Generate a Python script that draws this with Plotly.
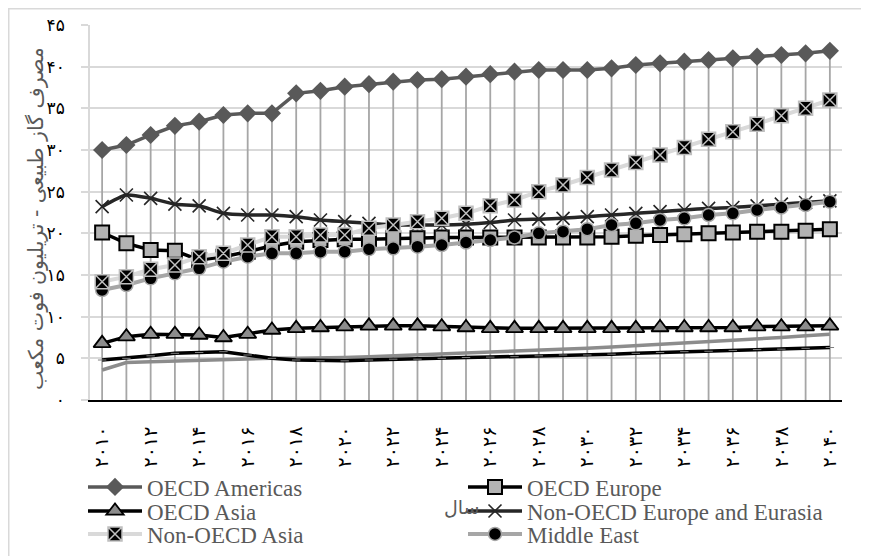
import plotly.graph_objects as go

years = list(range(2010, 2041))

oecd_americas = [30.0, 30.6, 31.8, 32.9, 33.4, 34.2, 34.4, 34.4, 36.8, 37.1,
                 37.6, 37.9, 38.2, 38.4, 38.5, 38.8, 39.1, 39.4, 39.6, 39.6,
                 39.6, 39.8, 40.2, 40.4, 40.6, 40.8, 41.0, 41.2, 41.4, 41.6, 41.9]
oecd_europe = [20.1, 18.8, 18.0, 17.9, 16.8, 17.2, 17.8, 18.5, 19.0, 19.2,
               19.3, 19.3, 19.4, 19.4, 19.5, 19.5, 19.5, 19.5, 19.5, 19.5,
               19.5, 19.6, 19.7, 19.8, 19.9, 20.0, 20.1, 20.2, 20.2, 20.3, 20.5]
oecd_asia = [6.8, 7.6, 7.9, 7.9, 7.8, 7.5, 7.9, 8.4, 8.6, 8.7,
             8.8, 8.9, 8.9, 8.9, 8.8, 8.7, 8.6, 8.6, 8.6, 8.6,
             8.6, 8.6, 8.6, 8.7, 8.7, 8.7, 8.7, 8.8, 8.8, 8.8, 8.9]
non_oecd_europe = [23.2, 24.6, 24.2, 23.5, 23.3, 22.4, 22.2, 22.2, 22.0, 21.6,
                   21.4, 21.2, 21.0, 21.0, 21.0, 21.1, 21.3, 21.6, 21.7, 21.8,
                   22.0, 22.2, 22.4, 22.6, 22.8, 23.0, 23.1, 23.3, 23.5, 23.7, 23.9]
non_oecd_asia = [14.2, 14.8, 15.7, 16.2, 17.2, 17.6, 18.6, 19.6, 19.6, 19.8,
                 19.8, 20.6, 21.0, 21.4, 21.8, 22.4, 23.3, 24.0, 25.0, 25.8,
                 26.7, 27.6, 28.5, 29.4, 30.3, 31.3, 32.2, 33.1, 34.1, 35.0, 36.0]
middle_east = [13.2, 13.8, 14.6, 15.2, 15.8, 16.6, 17.2, 17.6, 17.6, 17.8,
               17.8, 18.1, 18.2, 18.4, 18.6, 18.9, 19.2, 19.5, 20.0, 20.2,
               20.5, 21.0, 21.2, 21.6, 21.8, 22.2, 22.4, 22.8, 23.1, 23.4, 23.8]
africa = [4.8, 5.0, 5.3, 5.6, 5.7, 5.8, 5.4, 5.0, 4.8, 4.7,
          4.7, 4.8, 4.9, 4.9, 5.0, 5.1, 5.15, 5.2, 5.3, 5.4,
          5.4, 5.5, 5.6, 5.7, 5.8, 5.85, 5.95, 6.05, 6.1, 6.2, 6.3]
central_south_america = [3.6, 4.5, 4.6, 4.7, 4.7, 4.8, 4.9, 5.0, 5.0, 5.0,
                         5.1, 5.2, 5.3, 5.4, 5.5, 5.6, 5.7, 5.85, 5.95, 6.1,
                         6.2, 6.35, 6.5, 6.7, 6.85, 7.0, 7.2, 7.35, 7.5, 7.7, 7.9]

y_ticks = list(range(0, 50, 5))
x_ticks = list(range(2010, 2041, 2))

PERSIAN = str.maketrans("0123456789", "۰۱۲۳۴۵۶۷۸۹")


def fa(n):
    return str(n).translate(PERSIAN)


y_title = "مصرف گاز طبیعی - تریلیون فوت مکعب"
x_title = "سال"

fig = go.Figure()

fig.add_trace(go.Scatter(
    x=years, y=oecd_americas, name="OECD Americas", mode="lines+markers",
    line=dict(color="#595959", width=3.5),
    marker=dict(symbol="diamond", size=14, color="#595959"),
    error_y=dict(type="data", symmetric=False, array=[0] * len(years),
                 arrayminus=oecd_americas, color="#A6A6A6", thickness=1.8, width=0),
    legend="legend", legendrank=1,
))
fig.add_trace(go.Scatter(
    x=years, y=central_south_america, name="Central and South America", mode="lines",
    line=dict(color="#8C8C8C", width=3.5), showlegend=False,
))
fig.add_trace(go.Scatter(
    x=years, y=africa, name="Africa", mode="lines+markers",
    line=dict(color="#000000", width=3.5),
    marker=dict(symbol="line-ew", size=6, line=dict(color="#7F7F7F", width=1)),
    showlegend=False,
))
fig.add_trace(go.Scatter(
    x=years, y=oecd_asia, name="OECD Asia", mode="lines+markers",
    line=dict(color="#000000", width=3.5),
    marker=dict(symbol="triangle-up", size=15, color="#8C8C8C",
                line=dict(color="#000000", width=1.8)),
    legend="legend2", legendrank=1,
))
fig.add_trace(go.Scatter(
    x=years, y=oecd_europe, name="OECD Europe", mode="lines+markers",
    line=dict(color="#000000", width=3.5),
    marker=dict(symbol="square", size=14, color="#B3B3B3",
                line=dict(color="#000000", width=2)),
    legend="legend", legendrank=2,
))
fig.add_trace(go.Scatter(
    x=years, y=non_oecd_europe, name="Non-OECD Europe and Eurasia", mode="lines+markers",
    line=dict(color="#262626", width=3.5, shape="spline", smoothing=0.6),
    marker=dict(symbol="x-thin", size=13, line=dict(color="#262626", width=1.6)),
    legend="legend2", legendrank=2,
))
fig.add_trace(go.Scatter(
    x=years, y=middle_east, name="Middle East", mode="lines+markers",
    line=dict(color="#A6A6A6", width=4),
    marker=dict(symbol="circle", size=13, color="#000000",
                line=dict(color="#A6A6A6", width=1.5)),
    legend="legend3", legendrank=2,
))
fig.add_trace(go.Scatter(
    x=years, y=non_oecd_asia, name="Non-OECD Asia", mode="lines+markers",
    line=dict(color="#D9D9D9", width=4),
    marker=dict(symbol="square-x", size=14, color="#000000",
                line=dict(color="#BFBFBF", width=1.5)),
    legend="legend3", legendrank=1,
))

# The page body adds an 8px offset; positions below are in figure pixels.
W, H = 869, 556
PL, PR, PT, PB = 82, 834, 17, 392
pw, ph = PR - PL, PB - PT


def px_x(v):
    return (v - PL) / pw


def px_y(v):
    return (PB - v) / ph


LEG_FONT = dict(family="Liberation Serif, serif", size=23, color="#595959")


def row_legend(ypix):
    return dict(
        orientation="h", x=px_x(75), y=px_y(ypix), xanchor="left", yanchor="middle",
        font=LEG_FONT, entrywidth=311, entrywidthmode="pixels", itemwidth=54,
        traceorder="normal", bgcolor="rgba(0,0,0,0)",
    )


fig.update_layout(
    width=W, height=H,
    margin=dict(l=PL, r=W - PR, t=PT, b=H - PB, autoexpand=False),
    paper_bgcolor="white", plot_bgcolor="white",
    font=dict(family="Liberation Serif, serif", color="#595959"),
    showlegend=True,
    legend=row_legend(479),
    legend2=row_legend(503),
    legend3=row_legend(526),
    xaxis=dict(
        range=[2009.5, 2040.5], tickmode="array", tickvals=x_ticks,
        ticktext=[fa(v) for v in x_ticks], tickangle=-90,
        tickfont=dict(family="DejaVu Sans", size=19, color="#000000"),
        showgrid=False, zeroline=False, showline=True, linecolor="#000000",
        linewidth=2, ticks="", ticklabelstandoff=17,
    ),
    yaxis=dict(
        range=[0, 45], tickmode="array", tickvals=y_ticks,
        ticktext=[fa(v) for v in y_ticks],
        tickfont=dict(family="DejaVu Sans", size=17, color="#000000"),
        showgrid=True, gridcolor="#D9D9D9", gridwidth=1.5, zeroline=False,
        showline=True, linecolor="#D9D9D9", linewidth=1.5,
        ticks="outside", ticklen=7, tickcolor="#D9D9D9", tickwidth=1.5,
        ticklabelstandoff=13,
    ),
    shapes=[dict(type="rect", xref="paper", yref="paper",
                 x0=px_x(0.75), x1=px_x(868), y0=px_y(555), y1=px_y(0.75),
                 line=dict(color="#D9D9D9", width=1.5), layer="below")],
    annotations=[
        dict(text=y_title, xref="paper", yref="paper", x=px_x(28), y=px_y(211),
             xanchor="center", yanchor="middle", textangle=-90, showarrow=False,
             font=dict(family="DejaVu Sans", size=20.5, color="#595959")),
        dict(text=x_title, xref="paper", yref="paper", x=px_x(454), y=px_y(499),
             xanchor="center", yanchor="middle", showarrow=False,
             font=dict(family="DejaVu Sans", size=19, color="#595959")),
    ],
)

fig.write_html("out.html")
